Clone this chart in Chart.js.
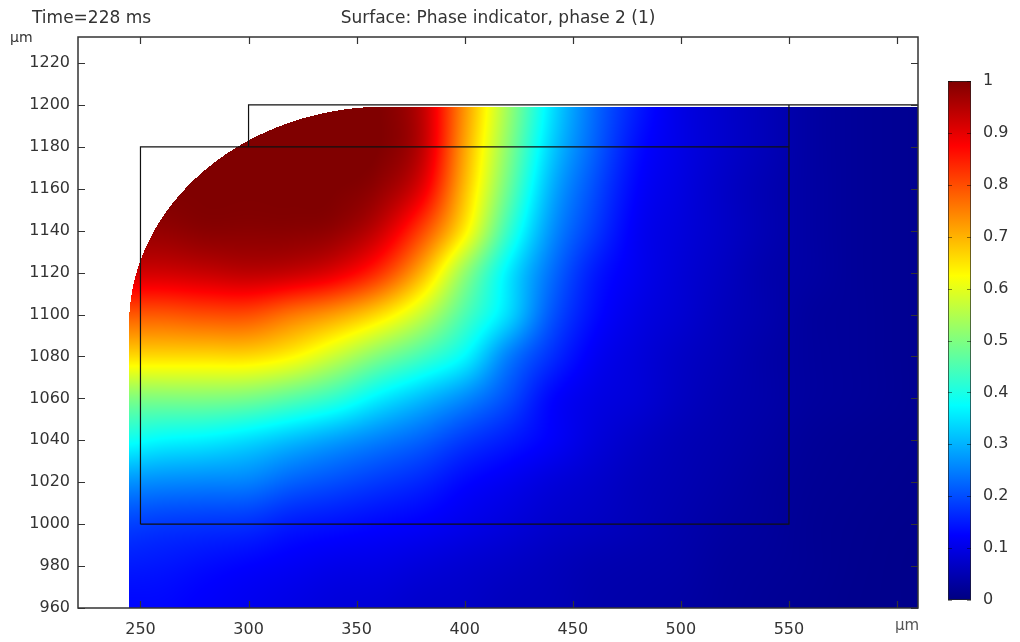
<!DOCTYPE html>
<html>
<head>
<meta charset="utf-8">
<script src="https://cdn.jsdelivr.net/npm/chart.js@4.4.0/dist/chart.umd.min.js"></script>
<style>
  html, body { margin: 0; padding: 0; background: #fff; }
  #wrap { position: relative; width: 1020px; height: 642px; }
  #plot { position: absolute; left: 0; top: 0; }
  #bar { position: absolute; left: 930px; top: 0; }
</style>
</head>
<body>
<div id="wrap">
  <canvas id="plot" width="1020" height="642"></canvas>
  <canvas id="bar" width="90" height="642"></canvas>
</div>
<script>
// tick labels
const xTicks = [250, 300, 350, 400, 450, 500, 550, 600];
const yTicks = [960, 980, 1000, 1020, 1040, 1060, 1080, 1100, 1120, 1140, 1160, 1180, 1200, 1220];
const barTicks = [0, 0.1, 0.2, 0.3, 0.4, 0.5, 0.6, 0.7, 0.8, 0.9, 1];

// sample grid of the phase indicator (um)
const xGrid = [240, 260, 280, 300, 320, 340, 360, 380, 400, 420, 440, 460, 480, 500, 520, 540, 560, 580, 600, 620];
const yGrid = [1200, 1180, 1160, 1140, 1120, 1100, 1080, 1060, 1040, 1020, 1000, 980, 960];

const phase1200 = [1.0, 1.0, 1.0, 1.0, 1.0, 1.0, 1.0, 0.94, 0.73, 0.53, 0.35, 0.23, 0.15, 0.10, 0.075, 0.055, 0.035, 0.025, 0.02, 0.015];
const phase1180 = [1.0, 1.0, 1.0, 1.0, 1.0, 1.0, 1.0, 0.94, 0.715, 0.51, 0.33, 0.22, 0.137, 0.10, 0.075, 0.055, 0.035, 0.025, 0.02, 0.015];
const phase1160 = [1.0, 1.0, 1.0, 1.0, 1.0, 1.0, 0.98, 0.90, 0.69, 0.48, 0.30, 0.20, 0.125, 0.095, 0.07, 0.05, 0.035, 0.025, 0.02, 0.015];
const phase1140 = [0.98, 0.98, 0.99, 0.99, 0.99, 0.98, 0.93, 0.81, 0.64, 0.43, 0.27, 0.18, 0.115, 0.09, 0.07, 0.05, 0.035, 0.025, 0.02, 0.015];
const phase1120 = [0.92, 0.92, 0.93, 0.94, 0.93, 0.90, 0.83, 0.70, 0.52, 0.36, 0.235, 0.15, 0.11, 0.085, 0.065, 0.045, 0.035, 0.025, 0.02, 0.015];
const phase1100 = [0.79, 0.79, 0.80, 0.80, 0.76, 0.72, 0.66, 0.57, 0.45, 0.34, 0.21, 0.135, 0.10, 0.08, 0.06, 0.045, 0.03, 0.025, 0.02, 0.015];
const phase1080 = [0.66, 0.66, 0.66, 0.66, 0.63, 0.57, 0.50, 0.44, 0.37, 0.25, 0.17, 0.115, 0.09, 0.07, 0.055, 0.04, 0.03, 0.025, 0.02, 0.015];
const phase1060 = [0.50, 0.50, 0.50, 0.49, 0.46, 0.42, 0.36, 0.31, 0.26, 0.20, 0.13, 0.10, 0.085, 0.065, 0.05, 0.04, 0.03, 0.025, 0.02, 0.015];
const phase1040 = [0.39, 0.37, 0.36, 0.34, 0.31, 0.28, 0.25, 0.22, 0.18, 0.15, 0.12, 0.09, 0.07, 0.055, 0.045, 0.035, 0.025, 0.02, 0.017, 0.015];
const phase1020 = [0.27, 0.26, 0.255, 0.25, 0.22, 0.20, 0.18, 0.16, 0.13, 0.11, 0.09, 0.075, 0.06, 0.05, 0.04, 0.03, 0.022, 0.018, 0.015, 0.012];
const phase1000 = [0.19, 0.18, 0.175, 0.17, 0.15, 0.14, 0.13, 0.12, 0.105, 0.09, 0.075, 0.065, 0.055, 0.045, 0.035, 0.028, 0.02, 0.016, 0.013, 0.012];
const phase980 = [0.15, 0.145, 0.135, 0.125, 0.115, 0.105, 0.10, 0.09, 0.08, 0.07, 0.06, 0.05, 0.045, 0.04, 0.03, 0.025, 0.02, 0.015, 0.012, 0.01];
const phase960 = [0.13, 0.13, 0.12, 0.11, 0.10, 0.09, 0.085, 0.075, 0.07, 0.06, 0.055, 0.045, 0.04, 0.035, 0.028, 0.022, 0.018, 0.014, 0.012, 0.01];
const phaseRows = [phase1200, phase1180, phase1160, phase1140, phase1120, phase1100, phase1080,
  phase1060, phase1040, phase1020, phase1000, phase980, phase960];

// geometry edges (um)
const rectInner = [{x: 250, y: 1000}, {x: 550, y: 1000}, {x: 550, y: 1180}, {x: 250, y: 1180}, {x: 250, y: 1000}];
const stepLine = [{x: 300, y: 1180}, {x: 300, y: 1200}, {x: 620, y: 1200}];
const line550 = [{x: 550, y: 1180}, {x: 550, y: 1200}];

// fluid domain: left wall, top, rounded top-left corner (ellipse quarter)
const domainLeft = 244.7;
const domainTop = 1199.2;
const cornerCenter = [363.7, 1095];
const cornerRadii = [119, 104.2];

const FONT = "'DejaVu Sans', sans-serif";
const TEXT = "#333";

function jet(v) {
  v = Math.max(0, Math.min(1, v));
  const c = k => Math.round(255 * Math.max(0, Math.min(1, 1.5 - Math.abs(4 * v - k))));
  return [c(3), c(2), c(1)];
}

function inDomain(x, y) {
  if (x < domainLeft || y > domainTop || y < yGrid[yGrid.length - 1]) return false;
  if (x < cornerCenter[0] && y > cornerCenter[1]) {
    const dx = (x - cornerCenter[0]) / cornerRadii[0];
    const dy = (y - cornerCenter[1]) / cornerRadii[1];
    if (dx * dx + dy * dy > 1) return false;
  }
  return true;
}

// smooth (Catmull-Rom) shading between the grid samples
function cr(p0, p1, p2, p3, t) {
  return p1 + 0.5 * t * (p2 - p0 + t * (2 * p0 - 5 * p1 + 4 * p2 - p3 + t * (3 * (p1 - p2) + p3 - p0)));
}

function sample(x, y) {
  const sx = xGrid[1] - xGrid[0];
  const sy = yGrid[0] - yGrid[1];
  const nx = xGrid.length, ny = yGrid.length;
  let i = Math.floor((x - xGrid[0]) / sx);
  i = Math.max(0, Math.min(nx - 2, i));
  let j = Math.floor((yGrid[0] - y) / sy);
  j = Math.max(0, Math.min(ny - 2, j));
  const tx = Math.max(0, Math.min(1, (x - xGrid[i]) / sx));
  const ty = Math.max(0, Math.min(1, (yGrid[j] - y) / sy));
  const ci = k => Math.max(0, Math.min(nx - 1, k));
  const cj = k => Math.max(0, Math.min(ny - 1, k));
  const rowVal = r => {
    const row = phaseRows[cj(r)];
    return cr(row[ci(i - 1)], row[ci(i)], row[ci(i + 1)], row[ci(i + 2)], tx);
  };
  return cr(rowVal(j - 1), rowVal(j), rowVal(j + 1), rowVal(j + 2), ty);
}

const fieldPlugin = {
  id: "field",
  beforeDatasetsDraw(chart) {
    const {ctx, chartArea: a, scales: {x, y}} = chart;
    const w = Math.round(a.right - a.left), h = Math.round(a.bottom - a.top);
    const off = document.createElement("canvas");
    off.width = w; off.height = h;
    const octx = off.getContext("2d");
    const img = octx.createImageData(w, h);
    const xs = [];
    for (let i = 0; i < w; i++) xs.push(x.getValueForPixel(a.left + i + 0.5));
    for (let j = 0; j < h; j++) {
      const yv = y.getValueForPixel(a.top + j + 0.5);
      for (let i = 0; i < w; i++) {
        const xv = xs[i];
        if (!inDomain(xv, yv)) continue;
        const col = jet(sample(xv, yv));
        const k = (j * w + i) * 4;
        img.data[k] = col[0]; img.data[k + 1] = col[1]; img.data[k + 2] = col[2]; img.data[k + 3] = 255;
      }
    }
    octx.putImageData(img, 0, 0);
    ctx.drawImage(off, a.left, a.top);
  }
};

const framePlugin = {
  id: "frame",
  afterDraw(chart) {
    const {ctx, chartArea: a, scales: {x, y}} = chart;
    ctx.save();
    ctx.strokeStyle = "#333";
    ctx.lineWidth = 1.5;
    ctx.strokeRect(a.left, a.top, a.right - a.left, a.bottom - a.top);
    ctx.lineWidth = 1.2;
    ctx.beginPath();
    xTicks.forEach(v => {
      const p = Math.round(x.getPixelForValue(v)) + 0.5;
      ctx.moveTo(p, a.bottom); ctx.lineTo(p, a.bottom - 7);
      ctx.moveTo(p, a.top); ctx.lineTo(p, a.top + 7);
    });
    yTicks.forEach(v => {
      const p = Math.round(y.getPixelForValue(v)) + 0.5;
      ctx.moveTo(a.left, p); ctx.lineTo(a.left + 7, p);
      ctx.moveTo(a.right, p); ctx.lineTo(a.right - 7, p);
    });
    ctx.stroke();

    ctx.fillStyle = TEXT;
    ctx.textBaseline = "alphabetic";
    ctx.font = "17px " + FONT;
    ctx.textAlign = "left";
    ctx.fillText("Time=228 ms", 32, 23);
    ctx.textAlign = "center";
    ctx.fillText("Surface: Phase indicator, phase 2 (1)", 498, 23);
    ctx.font = "14px " + FONT;
    ctx.textAlign = "left";
    ctx.fillText("\u00b5m", 10, 42);
    ctx.fillStyle = "#555";
    ctx.font = "15px " + FONT;
    ctx.fillText("\u00b5m", 895, 630);
    ctx.restore();
  }
};

const edgeStyle = {showLine: true, borderColor: "#111", borderWidth: 1.2, pointRadius: 0, fill: false};

new Chart(document.getElementById("plot"), {
  type: "scatter",
  data: {
    datasets: [
      Object.assign({data: rectInner}, edgeStyle),
      Object.assign({data: stepLine}, edgeStyle),
      Object.assign({data: line550}, edgeStyle)
    ]
  },
  options: {
    responsive: false,
    devicePixelRatio: 1,
    animation: false,
    layout: {padding: {top: 37, right: 102, left: 0, bottom: 0}},
    plugins: {legend: {display: false}, tooltip: {enabled: false}},
    scales: {
      x: {
        type: "linear", min: 221.1, max: 609.7,
        grid: {display: false, drawTicks: false},
        border: {display: false},
        afterBuildTicks: s => { s.ticks = xTicks.map(v => ({value: v})); },
        afterFit: s => { s.height = 34; },
        ticks: {padding: 12, color: TEXT, font: {family: FONT, size: 16}, autoSkip: false, maxRotation: 0,
          callback: v => v === 600 ? "" : String(v)}
      },
      y: {
        type: "linear", min: 960, max: 1232.4,
        grid: {display: false, drawTicks: false},
        border: {display: false},
        afterBuildTicks: s => { s.ticks = yTicks.map(v => ({value: v})); },
        afterFit: s => { s.width = 78; },
        ticks: {padding: 8, color: TEXT, font: {family: FONT, size: 16}, autoSkip: false,
          callback: v => String(v)}
      }
    }
  },
  plugins: [fieldPlugin, framePlugin]
});

// colour legend
const barTickPlugin = {
  id: "barTicks",
  afterDatasetsDraw(chart) {
    const {ctx, chartArea: a, scales: {y}} = chart;
    ctx.save();
    ctx.strokeStyle = "rgba(0,0,0,0.45)";
    ctx.lineWidth = 1;
    ctx.beginPath();
    barTicks.forEach(v => {
      const p = Math.round(y.getPixelForValue(v)) + 0.5;
      ctx.moveTo(a.left, p); ctx.lineTo(a.left + 4, p);
      ctx.moveTo(a.right, p); ctx.lineTo(a.right - 4, p);
    });
    ctx.stroke();
    ctx.restore();
  }
};

new Chart(document.getElementById("bar"), {
  type: "bar",
  data: {
    labels: ["phase"],
    datasets: [{
      data: [[0, 1]],
      backgroundColor: c => {
        const area = c.chart.chartArea;
        if (!area) return "#000080";
        const g = c.chart.ctx.createLinearGradient(0, area.bottom, 0, area.top);
        g.addColorStop(0, "rgb(0,0,128)");
        g.addColorStop(0.125, "rgb(0,0,255)");
        g.addColorStop(0.375, "rgb(0,255,255)");
        g.addColorStop(0.625, "rgb(255,255,0)");
        g.addColorStop(0.875, "rgb(255,0,0)");
        g.addColorStop(1, "rgb(128,0,0)");
        return g;
      },
      borderColor: "#222",
      borderWidth: 1,
      borderSkipped: false,
      barPercentage: 1,
      categoryPercentage: 1
    }]
  },
  options: {
    responsive: false,
    devicePixelRatio: 1,
    animation: false,
    layout: {padding: {left: 18, top: 81, bottom: 42, right: 0}},
    plugins: {legend: {display: false}, tooltip: {enabled: false}},
    scales: {
      x: {display: false},
      y: {
        position: "right", min: 0, max: 1,
        grid: {display: false, drawTicks: false},
        border: {display: false},
        afterBuildTicks: s => { s.ticks = barTicks.map(v => ({value: v})); },
        afterFit: s => { s.width = 49; },
        ticks: {padding: 12, color: TEXT, font: {family: FONT, size: 16},
          callback: v => String(Math.round(v * 10) / 10)}
      }
    }
  },
  plugins: [barTickPlugin]
});
</script>
</body>
</html>
